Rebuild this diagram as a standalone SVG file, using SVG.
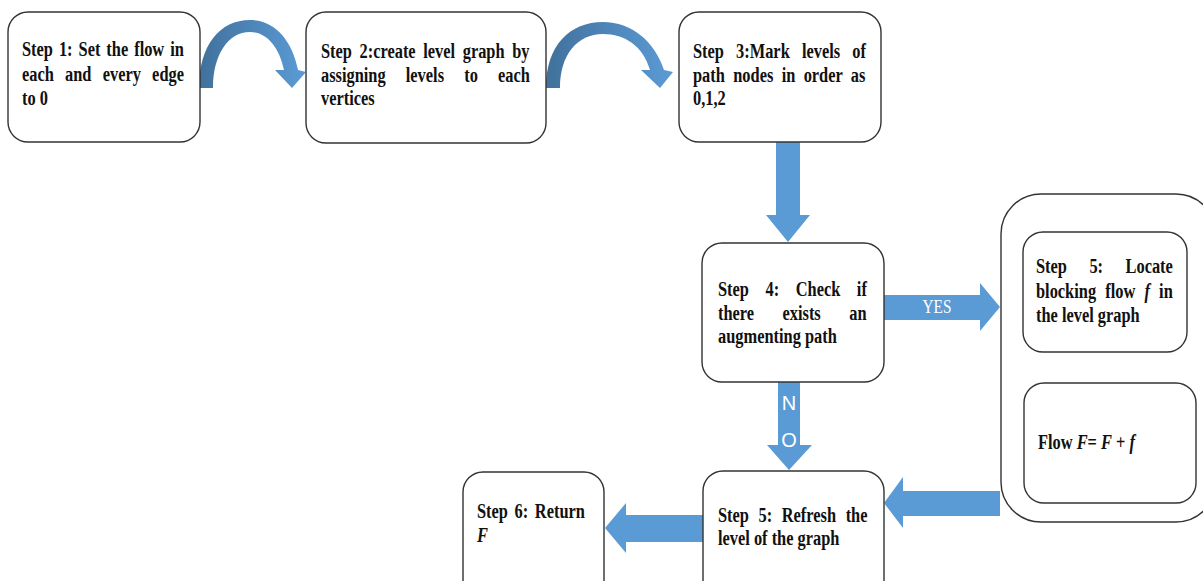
<svg xmlns="http://www.w3.org/2000/svg" width="1203" height="581" viewBox="0 0 1203 581">
<defs>
<linearGradient id="curve" x1="0" y1="0" x2="1" y2="0">
<stop offset="0" stop-color="#41719c"/>
<stop offset="1" stop-color="#5b9bd5"/>
</linearGradient>
</defs>
<style>
.box{fill:#fff;stroke:#333;stroke-width:1.4}
.t{font-family:"Liberation Serif","Times New Roman",serif;font-weight:bold;font-size:20px;fill:#111}
.i{font-style:italic}
.blk{fill:#5b9bd5}
.cur{fill:url(#curve)}
.lbl{fill:#fff}
</style>
<rect width="1203" height="581" fill="#fff"/>
<g id="connectors">
<path class="cur" d="M199,88 C199,45 220,20 250,20 C275,20 292,40 298,70 L306,72 L292,88 L275,70 L284,70 C279,46 266,32 250,32 C228,32 213,55 213,88 Z"/>
<path class="cur" d="M546,88 C546,45 570,22 603,22 C632,22 655,42 664,70 L673,72 L660,88 L641,70 L650,70 C643,46 625,34 603,34 C577,34 560,55 560,88 Z"/>
<path class="blk" d="M776,141 L800,141 L800,215 L810,215 L788,242 L766,215 L776,215 Z"/>
<path class="blk" d="M884,295 L980,295 L980,283 L1000,307 L980,331 L980,320 L884,320 Z"/>
<text transform="translate(937,313) scale(0.85,1)" text-anchor="middle" font-family="Liberation Serif, serif" font-size="18" class="lbl">YES</text>
<path class="blk" d="M778,382 L800,382 L800,445 L812,445 L789,470 L767,445 L778,445 Z"/>
<text x="789" y="410" text-anchor="middle" font-family="Liberation Sans, Arial, sans-serif" font-size="20" class="lbl">N</text>
<text x="789" y="447" text-anchor="middle" font-family="Liberation Sans, Arial, sans-serif" font-size="20" class="lbl">O</text>
<path class="blk" d="M1000,491 L903,491 L903,477 L884,503 L903,528 L903,516 L1000,516 Z"/>
<path class="blk" d="M703,515 L626,515 L626,503 L605,528 L626,553 L626,542 L703,542 Z"/>
</g>
<g id="step1">
<rect class="box" x="8" y="12" width="192" height="130" rx="20"/>
<text class="t" transform="translate(22,56) scale(0.82,1)" style="word-spacing:2.3px">Step 1: Set the flow in</text>
<text class="t" transform="translate(22,81) scale(0.82,1)" style="word-spacing:8.7px">each and every edge</text>
<text class="t" transform="translate(22,105) scale(0.82,1)">to 0</text>
</g>
<g id="step2">
<rect class="box" x="306" y="12" width="240" height="131" rx="20"/>
<text class="t" transform="translate(321,58) scale(0.82,1)" style="word-spacing:4.3px">Step 2:create level graph by</text>
<text class="t" transform="translate(321,82) scale(0.82,1)" style="word-spacing:19.6px">assigning levels to each</text>
<text class="t" transform="translate(321,105) scale(0.82,1)">vertices</text>
</g>
<g id="step3">
<rect class="box" x="679" y="12" width="202" height="130" rx="20"/>
<text class="t" transform="translate(693,58) scale(0.82,1)" style="word-spacing:9.8px">Step 3:Mark levels of</text>
<text class="t" transform="translate(693,82) scale(0.82,1)" style="word-spacing:5.2px">path nodes in order as</text>
<text class="t" transform="translate(693,105) scale(0.82,1)">0,1,2</text>
</g>
<g id="step4">
<rect class="box" x="702" y="243" width="182" height="139" rx="20"/>
<text class="t" transform="translate(718,296) scale(0.82,1)" style="word-spacing:15.2px">Step 4: Check if</text>
<text class="t" transform="translate(718,320) scale(0.82,1)" style="word-spacing:29.7px">there exists an</text>
<text class="t" transform="translate(718,343) scale(0.82,1)">augmenting path</text>
</g>
<g id="group5">
<rect class="box" x="1001" y="194" width="215" height="328" rx="40"/>
</g>
<g id="step5-locate">
<rect class="box" x="1023" y="232" width="164" height="120" rx="20"/>
<text class="t" transform="translate(1036,273) scale(0.82,1)" style="word-spacing:22.4px">Step 5: Locate</text>
<text class="t" transform="translate(1036,298) scale(0.82,1)" style="word-spacing:6.2px">blocking flow <tspan class="i">f</tspan> in</text>
<text class="t" transform="translate(1036,322) scale(0.82,1)">the level graph</text>
</g>
<g id="flow">
<rect class="box" x="1024" y="383" width="172" height="120" rx="20"/>
<text class="t" transform="translate(1038,449) scale(0.82,1)">Flow <tspan class="i">F</tspan>= <tspan class="i">F</tspan> + <tspan class="i">f</tspan></text>
</g>
<g id="step5-refresh">
<rect class="box" x="703" y="471" width="181" height="130" rx="20"/>
<text class="t" transform="translate(718,522) scale(0.82,1)" style="word-spacing:6.7px">Step 5: Refresh the</text>
<text class="t" transform="translate(718,545) scale(0.82,1)">level of the graph</text>
</g>
<g id="step6">
<rect class="box" x="463" y="472" width="141" height="130" rx="20"/>
<text class="t" transform="translate(477,518) scale(0.82,1)" style="word-spacing:3.1px">Step 6: Return</text>
<text class="t i" transform="translate(477,542) scale(0.82,1)">F</text>
</g>
</svg>
